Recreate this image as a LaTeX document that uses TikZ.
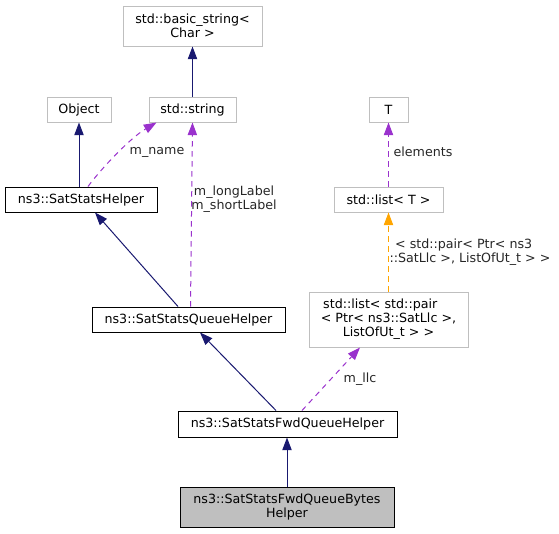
\documentclass[tikz,border=0pt]{standalone}
\usepackage{fontspec}
\setmainfont{DejaVu Sans}
\usetikzlibrary{arrows.meta}
\definecolor{navy}{HTML}{191970}
\definecolor{purp}{HTML}{9A32CD}
\definecolor{orng}{HTML}{FFA500}
\definecolor{lgray}{HTML}{BFBFBF}
\begin{document}
\begin{tikzpicture}[x=0.75pt,y=-0.75pt,
  every node/.style={font=\fontsize{9.5pt}{10.5pt}\selectfont, inner sep=0pt, align=center},
  gbox/.style={draw=lgray, line width=0.75pt, fill=white},
  bbox/.style={draw=black, line width=0.75pt, fill=white},
  tip/.style={-{Triangle[length=9.5pt,width=7pt]}},
  inh/.style={navy, line width=0.75pt, tip},
  use/.style={purp, line width=0.75pt, dash pattern=on 4pt off 3.5pt, tip},
  tmpl/.style={orng, line width=0.75pt, dash pattern=on 4pt off 3.5pt, tip},
  lbl/.style={text=black!85}]
\useasboundingbox (0,0) rectangle (559,533);
\node[gbox, minimum width={139*0.75pt}, minimum height={40*0.75pt}] (bs) at (192.5,26) {std::basic\_string<\\Char >};
\node[gbox, minimum width={64*0.75pt}, minimum height={25*0.75pt}] (obj) at (79,109.5) {Object};
\node[gbox, minimum width={87*0.75pt}, minimum height={25*0.75pt}] (str) at (192.5,109.5) {std::string};
\node[gbox, minimum width={39*0.75pt}, minimum height={25*0.75pt}] (T) at (388.5,109.5) {T};
\node[bbox, minimum width={152*0.75pt}, minimum height={25*0.75pt}] (ssh) at (81,199.5) {ns3::SatStatsHelper};
\node[gbox, minimum width={109*0.75pt}, minimum height={25*0.75pt}] (lstT) at (388.5,199.5) {std::list< T >};
\node[bbox, minimum width={193*0.75pt}, minimum height={25*0.75pt}] (qh) at (188.5,319.5) {ns3::SatStatsQueueHelper};
\node[gbox, minimum width={159*0.75pt}, minimum height={55*0.75pt}] (pair) at (388.5,319.5) {std::list< std::pair\hspace*{1.3em}\\< Ptr< ns3::SatLlc >,\\ListOfUt\_t > >};
\node[bbox, minimum width={219*0.75pt}, minimum height={26*0.75pt}] (fwd) at (287.5,424) {ns3::SatStatsFwdQueueHelper};
\node[draw=black, line width=0.75pt, fill=lgray, minimum width={214*0.75pt}, minimum height={40*0.75pt}] (bytes) at (287,507) {ns3::SatStatsFwdQueueBytes\\Helper};

\draw[inh] (str.north) -- (bs.south);
\draw[inh] (ssh.north -| obj.south) -- (obj.south);
\draw[inh] ([xshift=-10.5*0.75pt]qh.north) -- ([xshift=14*0.75pt]ssh.south);
\draw[inh] ([xshift=-11.5*0.75pt]fwd.north) -- ([xshift=11.5*0.75pt]qh.south);
\draw[inh] (bytes.north) -- (bytes.north |- fwd.south);

\draw[use] ([xshift=7*0.75pt]ssh.north) .. controls (100,170) and (130,138) .. ([xshift=-36*0.75pt]str.south);
\node[lbl] (lname) at (157,152) {m\_name};
\draw[use] ([xshift=2*0.75pt]qh.north) -- (str.south);
\node[lbl] (llong) at (234,199) {m\_longLabel\\m\_shortLabel};
\draw[use] (lstT.north) -- (T.south);
\node[lbl] (lel) at (423,152) {elements};
\draw[use] ([xshift=14.5*0.75pt]fwd.north) -- ([xshift=-28.5*0.75pt]pair.south);
\node[lbl] (lllc) at (360,379) {m\_llc};
\draw[tmpl] (pair.north) -- (lstT.south);
\node[lbl] (lpair) at (470,252) {< std::pair< Ptr< ns3\hspace*{1em}\\::SatLlc >, ListOfUt\_t > >};
\end{tikzpicture}
\end{document}
